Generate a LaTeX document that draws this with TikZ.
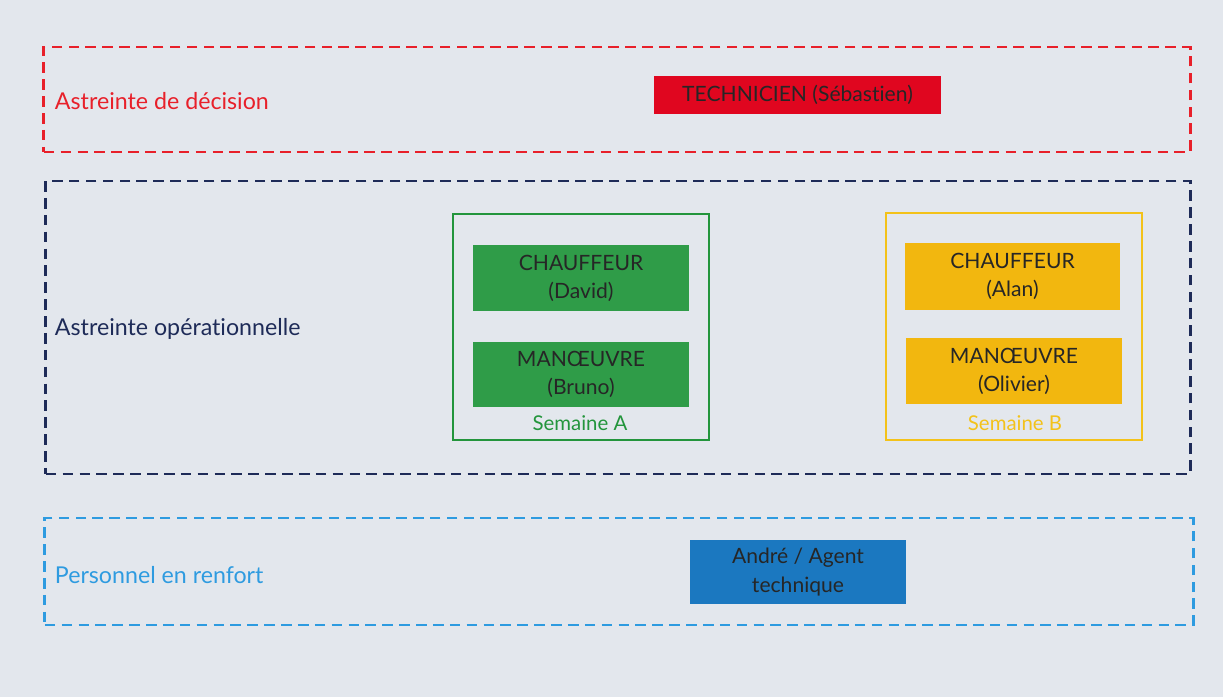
\documentclass[tikz,border=0pt]{standalone}
\usepackage{fontspec}
\setmainfont{Lato}[Ligatures={NoCommon,TeX}]
\usetikzlibrary{positioning}
\definecolor{pagebg}{HTML}{E3E7ED}
\definecolor{decred}{HTML}{E8202A}
\definecolor{opnavy}{HTML}{1E2B58}
\definecolor{renfblue}{HTML}{2E9BE0}
\definecolor{techfill}{HTML}{E0061F}
\definecolor{weekgreen}{HTML}{23953C}
\definecolor{greenfill}{HTML}{2F9C48}
\definecolor{weekyellow}{HTML}{F3C21A}
\definecolor{yellowfill}{HTML}{F2B70F}
\definecolor{agentfill}{HTML}{1B78C0}

\begin{document}
\begin{tikzpicture}[
  x=0.025cm, y=-0.025cm,
  band/.style={draw, dashed, line width=2pt, dash pattern=on 7.5pt off 4.5pt, outer sep=0pt},
  role/.style={rectangle, inner sep=2pt, outer sep=0pt, align=center, text=black!85, font=\fontsize{15}{20}\selectfont},
  week/.style={draw, line width=1.5pt, outer sep=0pt, minimum width=6.4cm},
  bandlabel/.style={anchor=west, font=\fontsize{16.5}{19}\selectfont},
  weeklabel/.style={font=\fontsize{14.5}{17}\selectfont}
]
\fill[pagebg] (0,0) rectangle (1223,697);
\useasboundingbox (0,0) rectangle (1223,697);

% bands
\node[band, draw=decred, minimum width=28.65cm, minimum height=2.625cm] (decision) at (617,99.5) {};
\node[band, draw=opnavy, minimum width=28.6cm, minimum height=7.325cm] (operation) at (618,327.5) {};
\node[band, draw=renfblue, minimum width=28.7cm, minimum height=2.675cm] (renfort) at (619,571.5) {};

\node[bandlabel, text=decred] (decisionlabel) at (50,101) {Astreinte de décision};
\node[bandlabel, text=opnavy] (operationlabel) at (50,329) {Astreinte opérationnelle};
\node[bandlabel, text=renfblue] (renfortlabel) at (50,575) {Personnel en renfort};

% decision
\node[role, fill=techfill, minimum width=7.175cm, minimum height=0.95cm] (technicien) at (797.5,95) {TECHNICIEN (Sébastien)};

% semaine A
\node[week, draw=weekgreen, minimum height=5.65cm] (weekA) at (581,327) {};
\node[role, fill=greenfill, minimum width=5.4cm, minimum height=1.65cm] (chauffeurA) at (581,278) {CHAUFFEUR\\(David)};
\node[role, fill=greenfill, minimum width=5.4cm, minimum height=1.625cm] (manoeuvreA) at (581,374.5) {MANŒUVRE\\(Bruno)};
\node[weeklabel, text=weekgreen] (labelA) at (580,423) {Semaine A};

% semaine B
\node[week, draw=weekyellow, minimum height=5.675cm] (weekB) at (1014,326.5) {};
\node[role, fill=yellowfill, minimum width=5.375cm, minimum height=1.675cm] (chauffeurB) at (1012.5,276.5) {CHAUFFEUR\\(Alan)};
\node[role, fill=yellowfill, minimum width=5.4cm, minimum height=1.65cm] (manoeuvreB) at (1014,371) {MANŒUVRE\\(Olivier)};
\node[weeklabel, text=weekyellow] (labelB) at (1015,423) {Semaine B};

% renfort
\node[role, fill=agentfill, minimum width=5.4cm, minimum height=1.6cm] (agent) at (798,572) {André / Agent\\technique};

\end{tikzpicture}
\end{document}
